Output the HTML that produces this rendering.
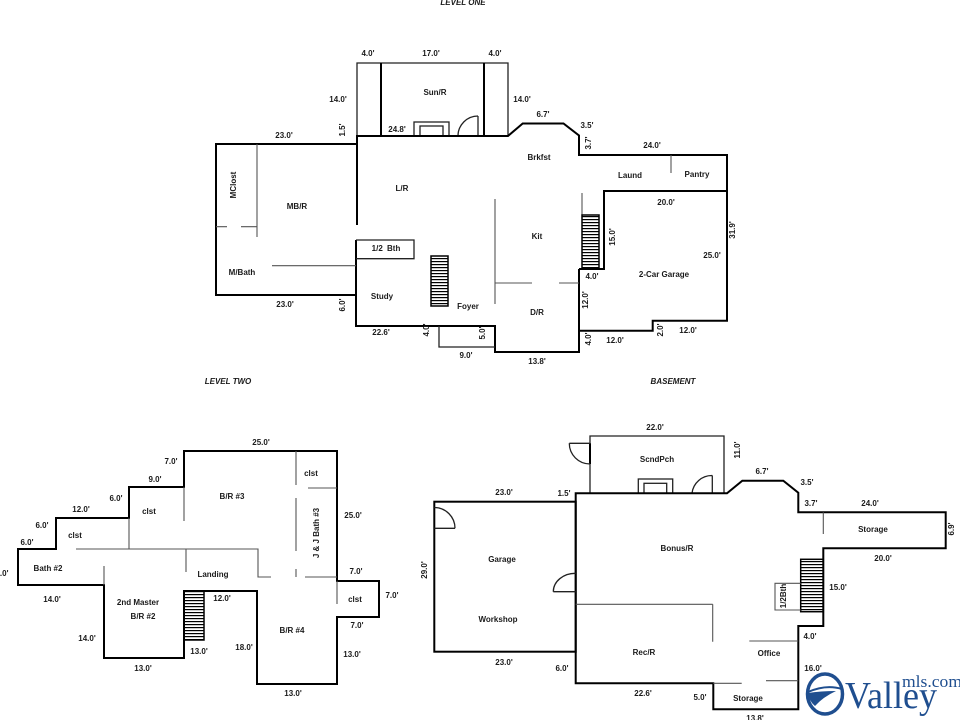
<!DOCTYPE html>
<html>
<head>
<meta charset="utf-8">
<style>
html,body{margin:0;padding:0;background:#fff;}
svg{display:block;}
text{font-family:"Liberation Sans",Arial,sans-serif;font-weight:bold;font-size:8px;fill:#1a1a1a;text-anchor:middle;}
.it{font-style:italic;}
.w{fill:none;stroke:#000;stroke-width:2;stroke-linejoin:miter;}
.t{fill:none;stroke:#555;stroke-width:1.1;}
.m{fill:none;stroke:#222;stroke-width:1.3;}
</style>
</head>
<body>
<svg width="960" height="720" viewBox="0 0 960 720" xmlns="http://www.w3.org/2000/svg">
<defs>
<pattern id="tr" width="6" height="3" patternUnits="userSpaceOnUse">
<rect width="6" height="1.2" fill="#000"/>
</pattern>
</defs>
<rect width="960" height="720" fill="#fff"/>

<!-- ================= LEVEL ONE ================= -->
<!-- sunroom -->
<path class="m" d="M357,136 L357,63 L508,63 L508,136"/>
<path class="w" d="M381,63 L381,136 M484,63 L484,136"/>
<!-- fireplace -->
<rect x="414" y="122" width="35" height="14" class="m"/>
<rect x="420" y="126" width="23" height="10" class="m"/>
<!-- door -->
<path class="m" d="M478,116 L478,136 M478,116 A20,20 0 0 0 458,136"/>
<!-- main outer walls -->
<path class="w" d="M216,144 L357,144 L357,136 L508,136 L522.7,123.5 L563.5,123.5 L579,135.5 L579,155 L727,155 L727,320.7 L652.7,320.7 L652.7,330.7 L579,330.7"/>
<path class="w" d="M579,269 L579,352 L495,352 L495,326 L356,326 L356,295 L216,295 L216,143"/>
<path class="w" d="M357,136 L357,225 M356,240 L356,295"/>
<path class="w" d="M579,269 L604,269 L604,191 L727,191"/>
<!-- thin interior -->
<path class="t" d="M671,155 L671,173"/>
<path class="t" d="M216,226.7 L227,226.7 M241,226.7 L257,226.7 M257,144 L257,237"/>
<path class="t" d="M272,265.7 L356,265.7"/>
<path class="m" d="M356,240 L414,240 L414,258.7 L356,258.7"/>
<path class="t" d="M495,199 L495,304 M495,283 L532,283 M559,283 L579,283"/>
<path class="t" d="M582,193 L582,215"/>
<path class="m" d="M439,326 L439,347 L495,347"/>
<!-- stairs -->
<rect x="431" y="256" width="17" height="50" fill="url(#tr)" stroke="#000" stroke-width="1.5"/>
<rect x="582" y="215" width="17" height="53" fill="url(#tr)" stroke="#000" stroke-width="1.5"/>

<!-- labels level one -->
<text class="it" x="463" y="5">LEVEL ONE</text>
<text x="368" y="56">4.0'</text>
<text x="431" y="56">17.0'</text>
<text x="495" y="56">4.0'</text>
<text x="338" y="102">14.0'</text>
<text x="522" y="102">14.0'</text>
<text x="435" y="95">Sun/R</text>
<text x="397" y="132">24.8'</text>
<text x="284" y="138">23.0'</text>
<text transform="rotate(-90 342 130)" x="342" y="133">1.5'</text>
<text x="543" y="117">6.7'</text>
<text x="587" y="128">3.5'</text>
<text transform="rotate(-90 588 143)" x="588" y="146">3.7'</text>
<text x="539" y="160">Brkfst</text>
<text x="652" y="148">24.0'</text>
<text x="630" y="178">Laund</text>
<text x="697" y="177">Pantry</text>
<text x="402" y="191">L/R</text>
<text transform="rotate(-90 233 185)" x="233" y="188">MClost</text>
<text x="297" y="209">MB/R</text>
<text x="666" y="205">20.0'</text>
<text transform="rotate(-90 732 230)" x="732" y="233">31.9'</text>
<text x="537" y="239">Kit</text>
<text transform="rotate(-90 612 237)" x="612" y="240">15.0'</text>
<text x="386" y="251" style="word-spacing:2px">1/2 Bth</text>
<text x="712" y="258">25.0'</text>
<text x="242" y="275">M/Bath</text>
<text x="592" y="279">4.0'</text>
<text x="664" y="277">2-Car Garage</text>
<text x="382" y="299">Study</text>
<text transform="rotate(-90 585 300)" x="585" y="303">12.0'</text>
<text x="285" y="307">23.0'</text>
<text transform="rotate(-90 342 305)" x="342" y="308">6.0'</text>
<text x="468" y="309">Foyer</text>
<text x="537" y="315">D/R</text>
<text x="381" y="335">22.6'</text>
<text transform="rotate(-90 426 330)" x="426" y="333">4.0'</text>
<text transform="rotate(-90 482 333)" x="482" y="336">5.0'</text>
<text transform="rotate(-90 660 330)" x="660" y="333">2.0'</text>
<text x="688" y="333">12.0'</text>
<text transform="rotate(-90 588 339)" x="588" y="342">4.0'</text>
<text x="615" y="343">12.0'</text>
<text x="466" y="358">9.0'</text>
<text x="537" y="364">13.8'</text>

<text class="it" x="228" y="384">LEVEL TWO</text>
<text class="it" x="673" y="384">BASEMENT</text>

<!-- ================= LEVEL TWO ================= -->
<path class="w" d="M18,549 L56,549 L56,518 L129,518 L129,487 L184,487 L184,451 L337,451 L337,581 L379,581 L379,617 L337,617 L337,684 L257,684 L257,591 L184,591 L184,658 L104,658 L104,585 L18,585 Z"/>
<path class="t" d="M129,518 L129,549 M184,487 L184,521"/>
<path class="t" d="M76,549 L258,549 L258,577 L271,577"/>
<path class="t" d="M186,549 L186,572 M104,566 L104,585"/>
<path class="t" d="M296,451 L296,485 M296,498 L296,551 M296,569 L296,577"/>
<path class="t" d="M308,488 L337,488 M305,577 L337,577 M337,581 L337,604"/>
<rect x="184" y="591" width="20" height="49" fill="url(#tr)" stroke="#000" stroke-width="1.5"/>

<text x="261" y="445">25.0'</text>
<text x="171" y="464">7.0'</text>
<text x="311" y="476">clst</text>
<text x="155" y="482">9.0'</text>
<text x="232" y="499">B/R #3</text>
<text x="116" y="501">6.0'</text>
<text x="81" y="512">12.0'</text>
<text x="149" y="514">clst</text>
<text x="353" y="518">25.0'</text>
<text x="42" y="528">6.0'</text>
<text transform="rotate(-90 316 533)" x="316" y="536">J &amp; J Bath #3</text>
<text x="75" y="538">clst</text>
<text x="27" y="545">6.0'</text>
<text x="48" y="571">Bath #2</text>
<text x="2" y="576">7.0'</text>
<text x="356" y="574">7.0'</text>
<text x="213" y="577">Landing</text>
<text x="392" y="598">7.0'</text>
<text x="355" y="602">clst</text>
<text x="222" y="601">12.0'</text>
<text x="52" y="602">14.0'</text>
<text x="138" y="605">2nd Master</text>
<text x="143" y="619">B/R #2</text>
<text x="357" y="628">7.0'</text>
<text x="292" y="633">B/R #4</text>
<text x="87" y="641">14.0'</text>
<text x="244" y="650">18.0'</text>
<text x="199" y="654">13.0'</text>
<text x="352" y="657">13.0'</text>
<text x="143" y="671">13.0'</text>
<text x="293" y="696">13.0'</text>

<!-- ================= BASEMENT ================= -->
<path class="m" d="M590,493.3 L590,436 L724,436 L724,493.3"/>
<path class="w" d="M590,443.3 L590,464"/>
<path class="m" d="M569.3,443.3 L590,443.3 M569.3,443.3 A20.7,20.7 0 0 0 590,464"/>
<rect x="638.3" y="479" width="34.4" height="14.3" class="m"/>
<rect x="644" y="483.3" width="22.7" height="10" class="m"/>
<path class="m" d="M712.3,475.5 L712.3,493.3 M712.3,475.5 A20,20 0 0 0 692,493.3"/>
<path class="w" d="M575.7,493.3 L727,493.3 L742.3,480.7 L783.3,480.7 L798.3,492.7 L798.3,512.3 L945.7,512.3 L945.7,548.3 L823.3,548.3 L823.3,626 L798.3,626 L798.3,709.3 L713.3,709.3 L713.3,683.3 L575.7,683.3 Z"/>
<rect x="434.3" y="501.7" width="141.4" height="150" class="w"/>
<path class="m" d="M434.3,528.3 L455,528.3 M434.3,507.5 A20.8,20.8 0 0 1 455,528.3"/>
<path class="m" d="M553.3,591.7 L575.7,591.7 M553.3,591.7 A22,18.5 0 0 1 575.7,573.3"/>
<path class="t" d="M575.7,604.3 L712.7,604.3 M712.7,604.3 L712.7,641.7"/>
<path class="t" d="M823.3,512.3 L823.3,534"/>
<rect x="800.7" y="559.3" width="22.6" height="52.4" fill="url(#tr)" stroke="#000" stroke-width="1.5"/>
<path class="t" d="M800.7,583.3 L775,583.3 L775,610 L800.7,610"/>
<path class="t" d="M749.3,641 L798.3,641 M766,680.7 L798.3,680.7 M713.3,683.3 L741.7,683.3"/>

<text x="655" y="430">22.0'</text>
<text transform="rotate(-90 737 450)" x="737" y="453">11.0'</text>
<text x="657" y="462">ScndPch</text>
<text x="762" y="474">6.7'</text>
<text x="807" y="485">3.5'</text>
<text x="504" y="495">23.0'</text>
<text x="564" y="496">1.5'</text>
<text x="811" y="506">3.7'</text>
<text x="870" y="506">24.0'</text>
<text x="873" y="532">Storage</text>
<text transform="rotate(-90 951 529)" x="951" y="532">6.9'</text>
<text x="677" y="551">Bonus/R</text>
<text x="883" y="561">20.0'</text>
<text x="502" y="562">Garage</text>
<text transform="rotate(-90 424 570)" x="424" y="573">29.0'</text>
<text x="838" y="590">15.0'</text>
<text transform="rotate(-90 783 596)" x="783" y="599">1/2Bth</text>
<text x="498" y="622">Workshop</text>
<text x="810" y="639">4.0'</text>
<text x="644" y="655">Rec/R</text>
<text x="769" y="656">Office</text>
<text x="504" y="665">23.0'</text>
<text x="562" y="671">6.0'</text>
<text x="813" y="671">16.0'</text>
<text x="643" y="696">22.6'</text>
<text x="700" y="700">5.0'</text>
<text x="748" y="701">Storage</text>
<text x="755" y="721">13.8'</text>

<!-- ================= LOGO ================= -->
<ellipse cx="825" cy="694" rx="17.5" ry="20" fill="none" stroke="#1f4e8f" stroke-width="3.5"/>
<path d="M808,692 Q826,684 842,689" fill="none" stroke="#1f4e8f" stroke-width="2"/>
<path d="M808,693 Q821,691 836,691 Q823,697 815,706 Q809,701 808,693 Z" fill="#1f4e8f"/>
<text x="845" y="708" textLength="92" lengthAdjust="spacingAndGlyphs" style="font-family:'Liberation Serif',serif;font-weight:normal;font-size:38px;fill:#1f4e8f;text-anchor:start;">Valley</text>
<text x="902" y="687" textLength="60" lengthAdjust="spacingAndGlyphs" style="font-family:'Liberation Serif',serif;font-weight:normal;font-size:17px;fill:#1f4e8f;text-anchor:start;">mls.com</text>
</svg>
</body>
</html>
